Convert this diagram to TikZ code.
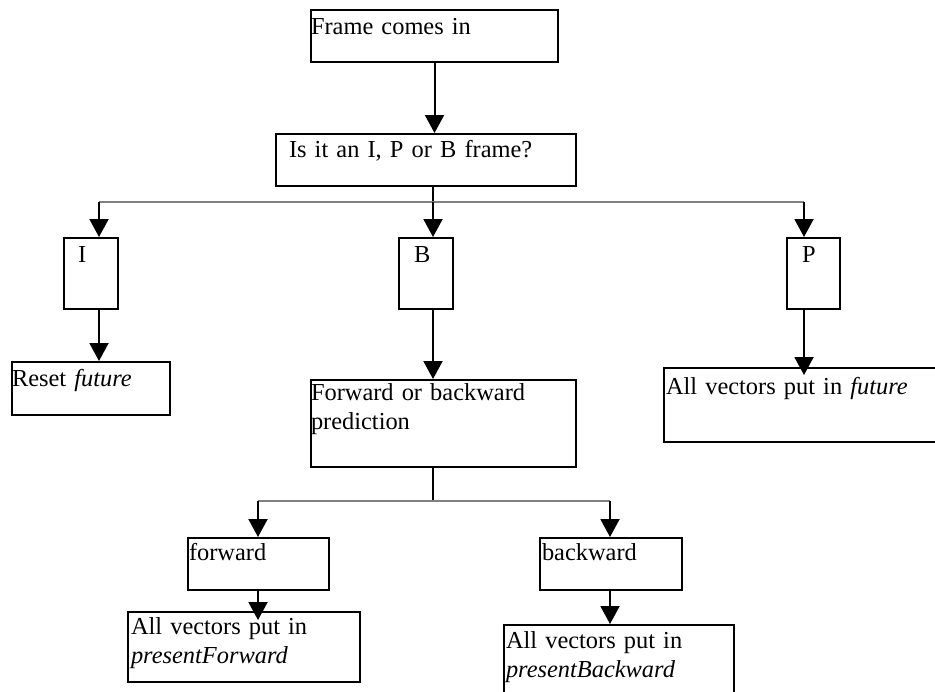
\documentclass[tikz,border=0pt]{standalone}
\usepackage{fontspec}
\setmainfont{Liberation Serif}
\usetikzlibrary{arrows.meta, positioning}

\tikzset{
  box/.style={draw, line width=1pt, anchor=north west, inner ysep=0pt, align=left,
    font=\fontsize{12.2}{14.5}\selectfont},
  flow/.style={line width=1pt, -{Triangle[length=9pt, width=9.5pt]}},
  bus/.style={line width=1pt, black!50},
}

\begin{document}
\begin{tikzpicture}[x=0.5pt, y=-0.5pt]
  \useasboundingbox (0,0) rectangle (935,691);
  \clip (0,0) rectangle (935,691);

  % Frame type decision
  \node[box, text width=123.5pt, inner xsep=0pt, text height=12pt, text depth=14pt] (frame) at (310,9) {Frame comes in};
  \node[box, text width=137pt, inner xsep=6.5pt, text height=11.5pt, text depth=14.5pt] (ftype) at (275,133) {Is it an I, P or B frame?};

  % I, B, P branches
  \node[box, text width=13pt, inner xsep=7pt, text height=12pt, text depth=23.5pt] (itype) at (63,237) {I};
  \node[box, text width=12pt, inner xsep=7.5pt, text height=12pt, text depth=23.5pt] (btype) at (398,237) {B};
  \node[box, text width=11.5pt, inner xsep=7.5pt, text height=12pt, text depth=23.5pt] (ptype) at (786,237) {P};

  \node[box, text width=79pt, inner xsep=0pt, text height=12pt, text depth=14.5pt] (reset) at (11,361) {Reset \textit{future}};
  \node[box, text width=132.5pt, inner xsep=0pt, text height=10pt, text depth=33.5pt] (fb) at (310,379) {Forward or backward\\prediction};
  \node[box, text width=134pt, inner xsep=1pt, text height=13pt, text depth=24pt] (pfut) at (663,367) {All vectors put in \textit{future}};

  % Forward / backward
  \node[box, text width=69.5pt, inner xsep=0.5pt, text height=11pt, text depth=15pt] (fwd) at (187,537) {forward};
  \node[box, text width=69pt, inner xsep=1pt, text height=11pt, text depth=15pt] (bwd) at (539,537) {backward};
  \node[box, text width=113pt, inner xsep=1.5pt, text height=11pt, text depth=24pt] (pf) at (127,611) {All vectors put in\\\textit{presentForward}};
  \node[box, text width=113pt, inner xsep=1pt, text height=11.5pt, text depth=28.5pt] (pb) at (503,624) {All vectors put in\\\textit{presentBackward}};

  % Connectors
  \coordinate (split) at (433,202);
  \coordinate (ibr) at (99,202);
  \coordinate (pbr) at (804,202);
  \coordinate (split2) at (433,501);
  \coordinate (fwdbr) at (258,501);
  \coordinate (bwdbr) at (610,501);

  \draw[flow] (frame.south) -- (frame.south |- ftype.north);
  \draw[line width=1pt] (ftype.south -| split) -- (split);
  \draw[bus] (ibr) -- (pbr);
  \draw[flow] (ibr) -- (ibr |- itype.north);
  \draw[flow] (split) -- (split |- btype.north);
  \draw[flow] (pbr) -- (pbr |- ptype.north);
  \draw[flow] (ibr |- itype.south) -- (ibr |- reset.north);
  \draw[flow] (split |- btype.south) -- (split |- fb.north);
  \draw[flow, shorten >=-4pt] (pbr |- ptype.south) -- (pbr |- pfut.north);

  \draw[line width=1pt] (fb.south -| split2) -- (split2);
  \draw[bus] (fwdbr) -- (bwdbr);
  \draw[flow] (fwdbr) -- (fwdbr |- fwd.north);
  \draw[flow] (bwdbr) -- (bwdbr |- bwd.north);
  \draw[flow, shorten >=-4.5pt] (fwdbr |- fwd.south) -- (fwdbr |- pf.north);
  \draw[flow] (bwdbr |- bwd.south) -- (bwdbr |- pb.north);
\end{tikzpicture}
\end{document}
